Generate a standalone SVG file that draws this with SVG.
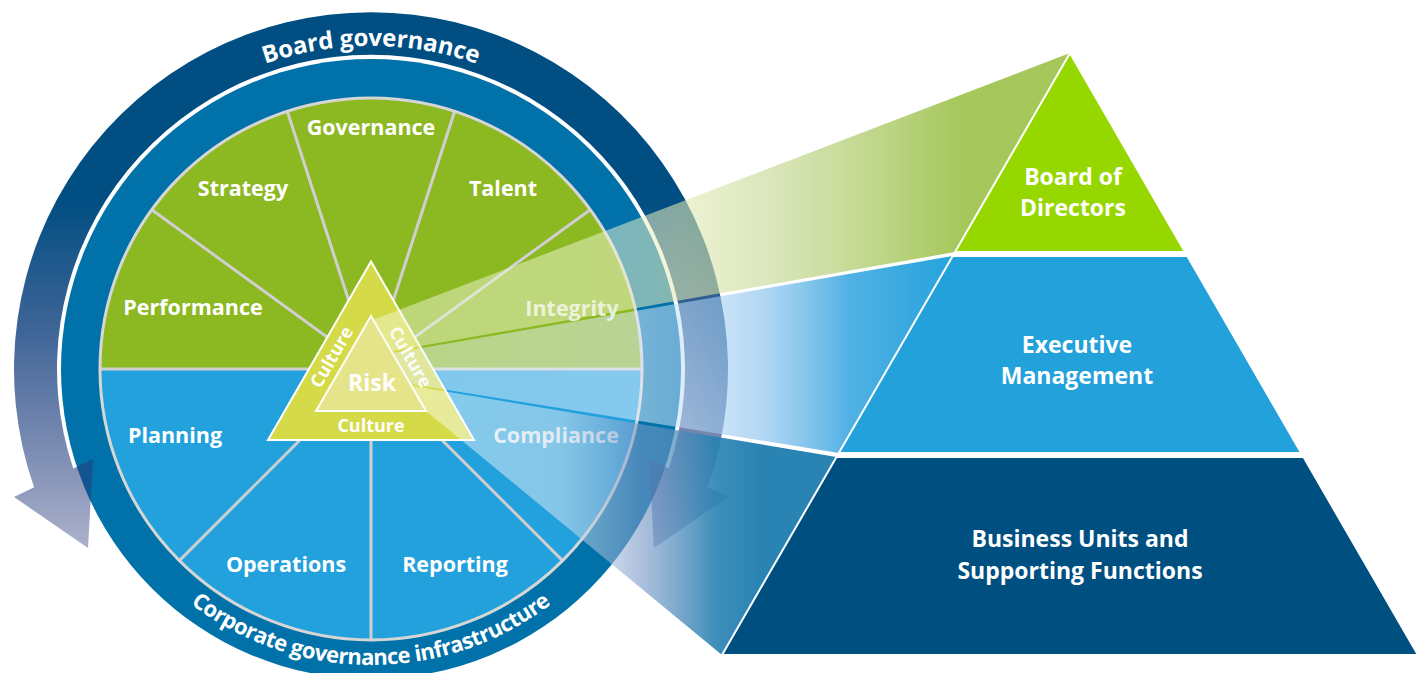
<svg xmlns="http://www.w3.org/2000/svg" width="1424" height="673" viewBox="0 0 1424 673">
<style>
.t{font-family:"Open Sans","Liberation Sans",sans-serif;font-weight:700;fill:#ffffff;text-anchor:middle}
.seg{font-size:21.5px}
.cul{font-size:18px}
.pyr{font-size:23px}
.dv{stroke:#cfcfcf;stroke-width:3;fill:none}
.tier{stroke:#ffffff;stroke-width:2}
</style>
<defs>
<linearGradient id="band" gradientUnits="userSpaceOnUse" x1="0" y1="12" x2="0" y2="550">
<stop offset="0" stop-color="#004e82"/>
<stop offset="0.35" stop-color="#004e82"/>
<stop offset="0.593" stop-color="#1d4a85" stop-opacity="0.85"/>
<stop offset="1" stop-color="#26357a" stop-opacity="0.38"/>
</linearGradient>
<linearGradient id="gOv" gradientUnits="userSpaceOnUse" x1="380" y1="0" x2="960" y2="0">
<stop offset="0" stop-color="#f6fae0" stop-opacity="0.45"/>
<stop offset="0.379" stop-color="#f4f8d8" stop-opacity="0.5"/>
<stop offset="0.517" stop-color="#e2eab4" stop-opacity="0.58"/>
<stop offset="0.655" stop-color="#c6d996" stop-opacity="0.62"/>
<stop offset="1" stop-color="#a0c452" stop-opacity="0.95"/>
</linearGradient>
<linearGradient id="bOv" gradientUnits="userSpaceOnUse" x1="380" y1="0" x2="960" y2="0">
<stop offset="0" stop-color="#f0f8ff" stop-opacity="0.45"/>
<stop offset="0.448" stop-color="#e1eeff" stop-opacity="0.52"/>
<stop offset="0.655" stop-color="#82beeb" stop-opacity="0.6"/>
<stop offset="0.81" stop-color="#3ca8e1" stop-opacity="0.9"/>
<stop offset="1" stop-color="#22a2dc" stop-opacity="1"/>
</linearGradient>
<linearGradient id="dOv" gradientUnits="userSpaceOnUse" x1="430" y1="0" x2="760" y2="0">
<stop offset="0" stop-color="#ffffff" stop-opacity="0.45"/>
<stop offset="0.394" stop-color="#e6ecf5" stop-opacity="0.5"/>
<stop offset="0.636" stop-color="#7898c6" stop-opacity="0.6"/>
<stop offset="0.864" stop-color="#2882b2" stop-opacity="0.9"/>
<stop offset="1" stop-color="#1e7daf" stop-opacity="0.95"/>
</linearGradient>
<path id="topArc" d="M 48 369 A 323 323 0 0 1 694 369"/>
<path id="botArc" d="M 75 369 A 296 296 0 0 0 667 369"/>
</defs>

<g id="ring-infrastructure">
<circle cx="371" cy="369" r="310" fill="#0071a9"/>
<text class="t" style="font-size:22px"><textPath href="#botArc" startOffset="50%" textLength="388" lengthAdjust="spacing">Corporate governance infrastructure</textPath></text>
</g>

<g id="board-governance-arrows">
<path d="M 88 548 L 14 497 L 34.1 487.3 A 357 357 0 1 1 707.9 487.3 L 728 497 L 654 548 L 649 459 L 668.75 468.5 A 314 314 0 1 0 73.25 468.5 L 93 459 Z" fill="url(#band)"/>
<text class="t" style="font-size:24px"><textPath href="#topArc" startOffset="50%" textLength="216" lengthAdjust="spacing">Board governance</textPath></text>
</g>

<g id="wheel">
<path d="M 100 369 A 271 271 0 0 1 642 369 Z" fill="#8cb822"/>
<path d="M 100 369 A 271 271 0 0 0 642 369 Z" fill="#22a1dc"/>
<path class="dv" d="M 371 369 L 590.2 209.7 M 371 369 L 454.7 111.3 M 371 369 L 287.3 111.3 M 371 369 L 151.8 209.7 M 100 369 L 642 369 M 371 369 L 562.6 560.6 M 371 369 L 371 640 M 371 369 L 179.4 560.6"/>
<circle cx="371" cy="369" r="271" fill="none" stroke="#d6d6d6" stroke-width="3"/>
</g>

<g id="seg-governance"><text class="t seg" x="371" y="135">Governance</text></g>
<g id="seg-strategy"><text class="t seg" x="243" y="196">Strategy</text></g>
<g id="seg-talent"><text class="t seg" x="503" y="196">Talent</text></g>
<g id="seg-performance"><text class="t seg" x="193" y="315">Performance</text></g>
<g id="seg-integrity"><text class="t seg" x="572" y="316" style="fill:#e6eed8">Integrity</text></g>
<g id="seg-planning"><text class="t seg" x="175" y="443">Planning</text></g>
<g id="seg-compliance"><text class="t seg" x="556" y="443" style="fill:#dde9f3">Compliance</text></g>
<g id="seg-operations"><text class="t seg" x="286" y="572">Operations</text></g>
<g id="seg-reporting"><text class="t seg" x="455" y="572">Reporting</text></g>

<g id="culture-triangle">
<polygon points="371,261.6 268,440 474,440" fill="#d5da48" stroke="#ffffff" stroke-width="2"/>
<text class="t cul" transform="translate(331.5,357) rotate(-60)" x="0" y="6.4">Culture</text>
<text class="t cul" transform="translate(410.5,357) rotate(60)" x="0" y="6.4">Culture</text>
<text class="t cul" x="371" y="432">Culture</text>
</g>

<g id="risk-triangle">
<polygon points="371,316 316,411 426,411" fill="#e6e48a" stroke="#ffffff" stroke-width="2"/>
<text class="t" style="font-size:23px" x="372" y="391">Risk</text>
</g>

<g id="connectors">
<polygon points="373.2,319.8 1070,53 955,252 391.35,351.15" fill="url(#gOv)"/>
<polygon points="392.45,353.05 952.7,256 838.8,453 410.3,383.9" fill="url(#bOv)"/>
<polygon points="411.4,385.8 836.5,457 722,655 426,411" fill="url(#dOv)"/>
</g>

<g id="tier-board">
<polygon class="tier" points="1070,53 955,252 1185,252" fill="#97d700"/>
<text class="t pyr" x="1073" y="185">Board of</text>
<text class="t pyr" x="1073" y="216">Directors</text>
</g>
<g id="tier-executive">
<polygon class="tier" points="952.7,256 1187.3,256 1301.2,453 838.8,453" fill="#22a1db"/>
<text class="t pyr" x="1077" y="353">Executive</text>
<text class="t pyr" x="1077" y="384">Management</text>
</g>
<g id="tier-business">
<polygon class="tier" points="836.5,457 1303.5,457 1418,655 722,655" fill="#004f81"/>
<text class="t pyr" x="1080" y="547">Business Units and</text>
<text class="t pyr" x="1080" y="579">Supporting Functions</text>
</g>
</svg>
